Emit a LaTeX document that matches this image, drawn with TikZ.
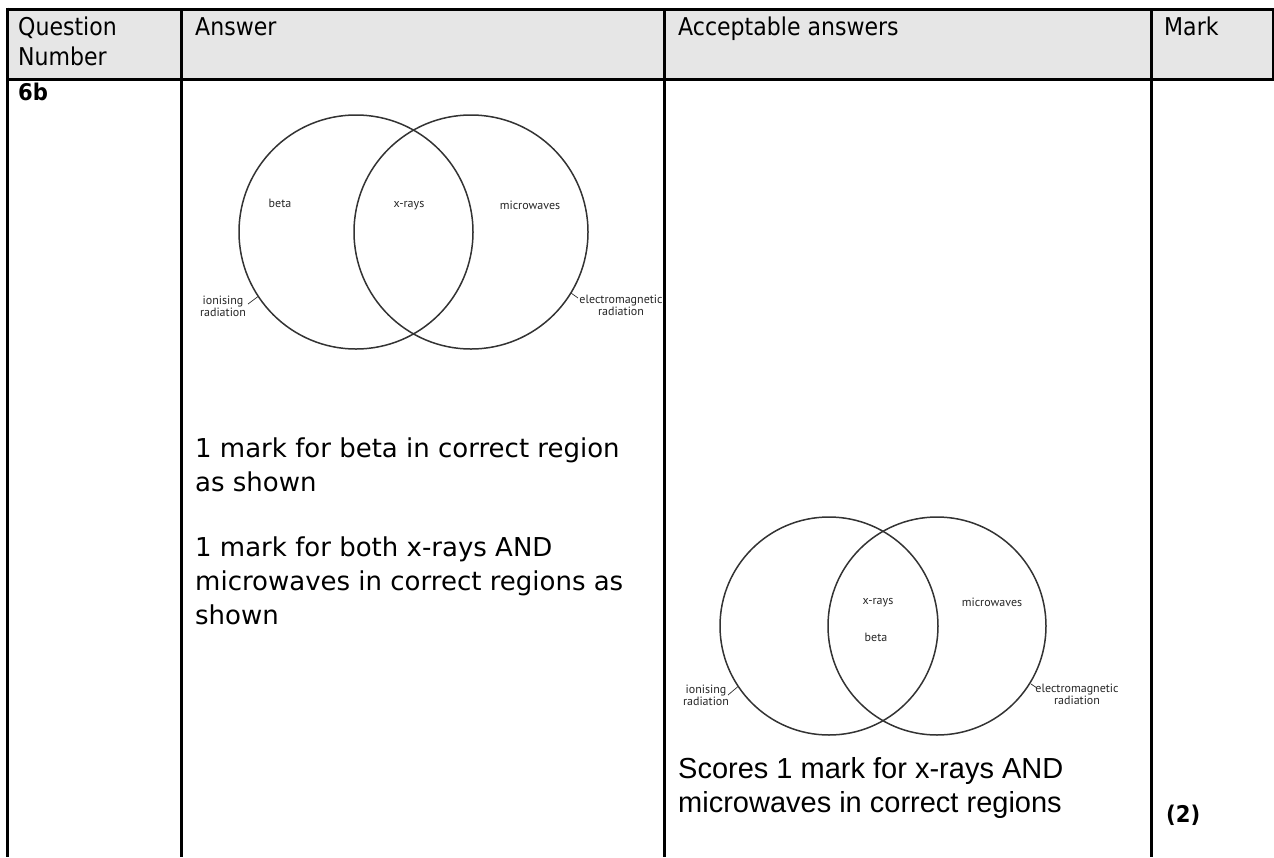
\documentclass[tikz,border=0pt]{standalone}
\usepackage{fontspec}
\setmainfont{DejaVu Sans}
\newfontfamily\hdfont[FakeStretch=0.9]{DejaVu Sans}
\newfontfamily\bodyfont{DejaVu Sans}
\newfontfamily\boldfont[FakeStretch=0.92]{DejaVu Sans Bold}
\newfontfamily\lblfont{PT Sans}
\newfontfamily\arialfont{Liberation Sans}
\definecolor{hdrgray}{HTML}{E6E6E6}
\definecolor{venn}{HTML}{333333}
\begin{document}
\begin{tikzpicture}[x=1pt,y=-1pt,
  tline/.style={line width=3pt,black},
  hdr/.style={font=\hdfont\fontsize{24.5}{29}\selectfont,anchor=base west,inner sep=0pt},
  bold/.style={font=\boldfont\fontsize{23}{27}\selectfont,anchor=base west,inner sep=0pt},
  body/.style={font=\bodyfont\fontsize{26}{32}\selectfont,anchor=base west,inner sep=0pt},
  arialtxt/.style={font=\arialfont\fontsize{29}{34}\selectfont,anchor=base west,inner sep=0pt},
  lbl/.style={font=\lblfont\fontsize{12}{14}\selectfont,inner sep=0pt,text=black!85},
  vcircA/.style={circle,draw=venn,line width=1.5pt,minimum size=234pt,inner sep=0pt},
  vcircB/.style={circle,draw=venn,line width=1.5pt,minimum size=218pt,inner sep=0pt},
  tick/.style={draw=venn,line width=0.7pt}
]
\useasboundingbox (0,0) rectangle (1274,857);
% header background
\fill[hdrgray] (7,9) rectangle (1273,79);
% table lines
\draw[tline] (7,9) -- (1273,9);
\draw[tline] (7,79) -- (1273,79);
\draw[tline] (7,7.5) -- (7,857);
\draw[tline] (181,9) -- (181,857);
\draw[tline] (664,9) -- (664,857);
\draw[tline] (1151,9) -- (1151,857);
\draw[tline] (1273,7.5) -- (1273,80.5);
% header texts
\node[hdr] (hq1) at (18,35) {Question};
\node[hdr] (hq2) at (18,65) {Number};
\node[hdr] (ha) at (195,35) {Answer};
\node[hdr] (hacc) at (678,35) {Acceptable answers};
\node[hdr] (hm) at (1164,35) {Mark};
\node[bold] (qn) at (18,100) {6b};
% Venn 1
\node[vcircA] (L1) at (356,232) {};
\node[vcircA] (R1) at (471,232) {};
\node[lbl] (beta1) at (280,203) {beta};
\node[lbl] (xr1) at (409,206) {x-rays};
\node[lbl] (mw1) at (530,205) {microwaves};
\node[lbl,align=center] (ion1) at (223,306) {ionising\\[-2pt]radiation};
\node[lbl,align=center] (em1) at (621,305) {electromagnetic\\[-2pt]radiation};
\coordinate (t1a) at (248,304);
\coordinate (t1b) at (258,296.5);
\draw[tick] (t1a) -- (t1b);
\coordinate (t2a) at (571,293);
\coordinate (t2b) at (578,298);
\draw[tick] (t2a) -- (t2b);
% answer text
\node[body] (a1) at (195,457) {1 mark for beta in correct region};
\node[body] (a2) at (195,491) {as shown};
\node[body] (a3) at (195,556) {1 mark for both x-rays AND};
\node[body] (a4) at (195,590) {microwaves in correct regions as};
\node[body] (a5) at (195,624) {shown};
% Venn 2
\node[vcircB] (L2) at (829,626) {};
\node[vcircB] (R2) at (937,626) {};
\node[lbl] (xr2) at (878,603) {x-rays};
\node[lbl] (beta2) at (876,637) {beta};
\node[lbl] (mw2) at (992,602) {microwaves};
\node[lbl,align=center] (ion2) at (706,695) {ionising\\[-2pt]radiation};
\node[lbl,align=center] (em2) at (1077,694) {electromagnetic\\[-2pt]radiation};
\coordinate (t3a) at (728,695);
\coordinate (t3b) at (738,686.5);
\draw[tick] (t3a) -- (t3b);
\coordinate (t4a) at (1031,684);
\coordinate (t4b) at (1037,688);
\draw[tick] (t4a) -- (t4b);
% acceptable text
\node[arialtxt] (s1) at (678,778) {Scores 1 mark for x-rays AND};
\node[arialtxt] (s2) at (678,812) {microwaves in correct regions};
\node[bold] (mk) at (1166,822) {(2)};
\end{tikzpicture}
\end{document}
